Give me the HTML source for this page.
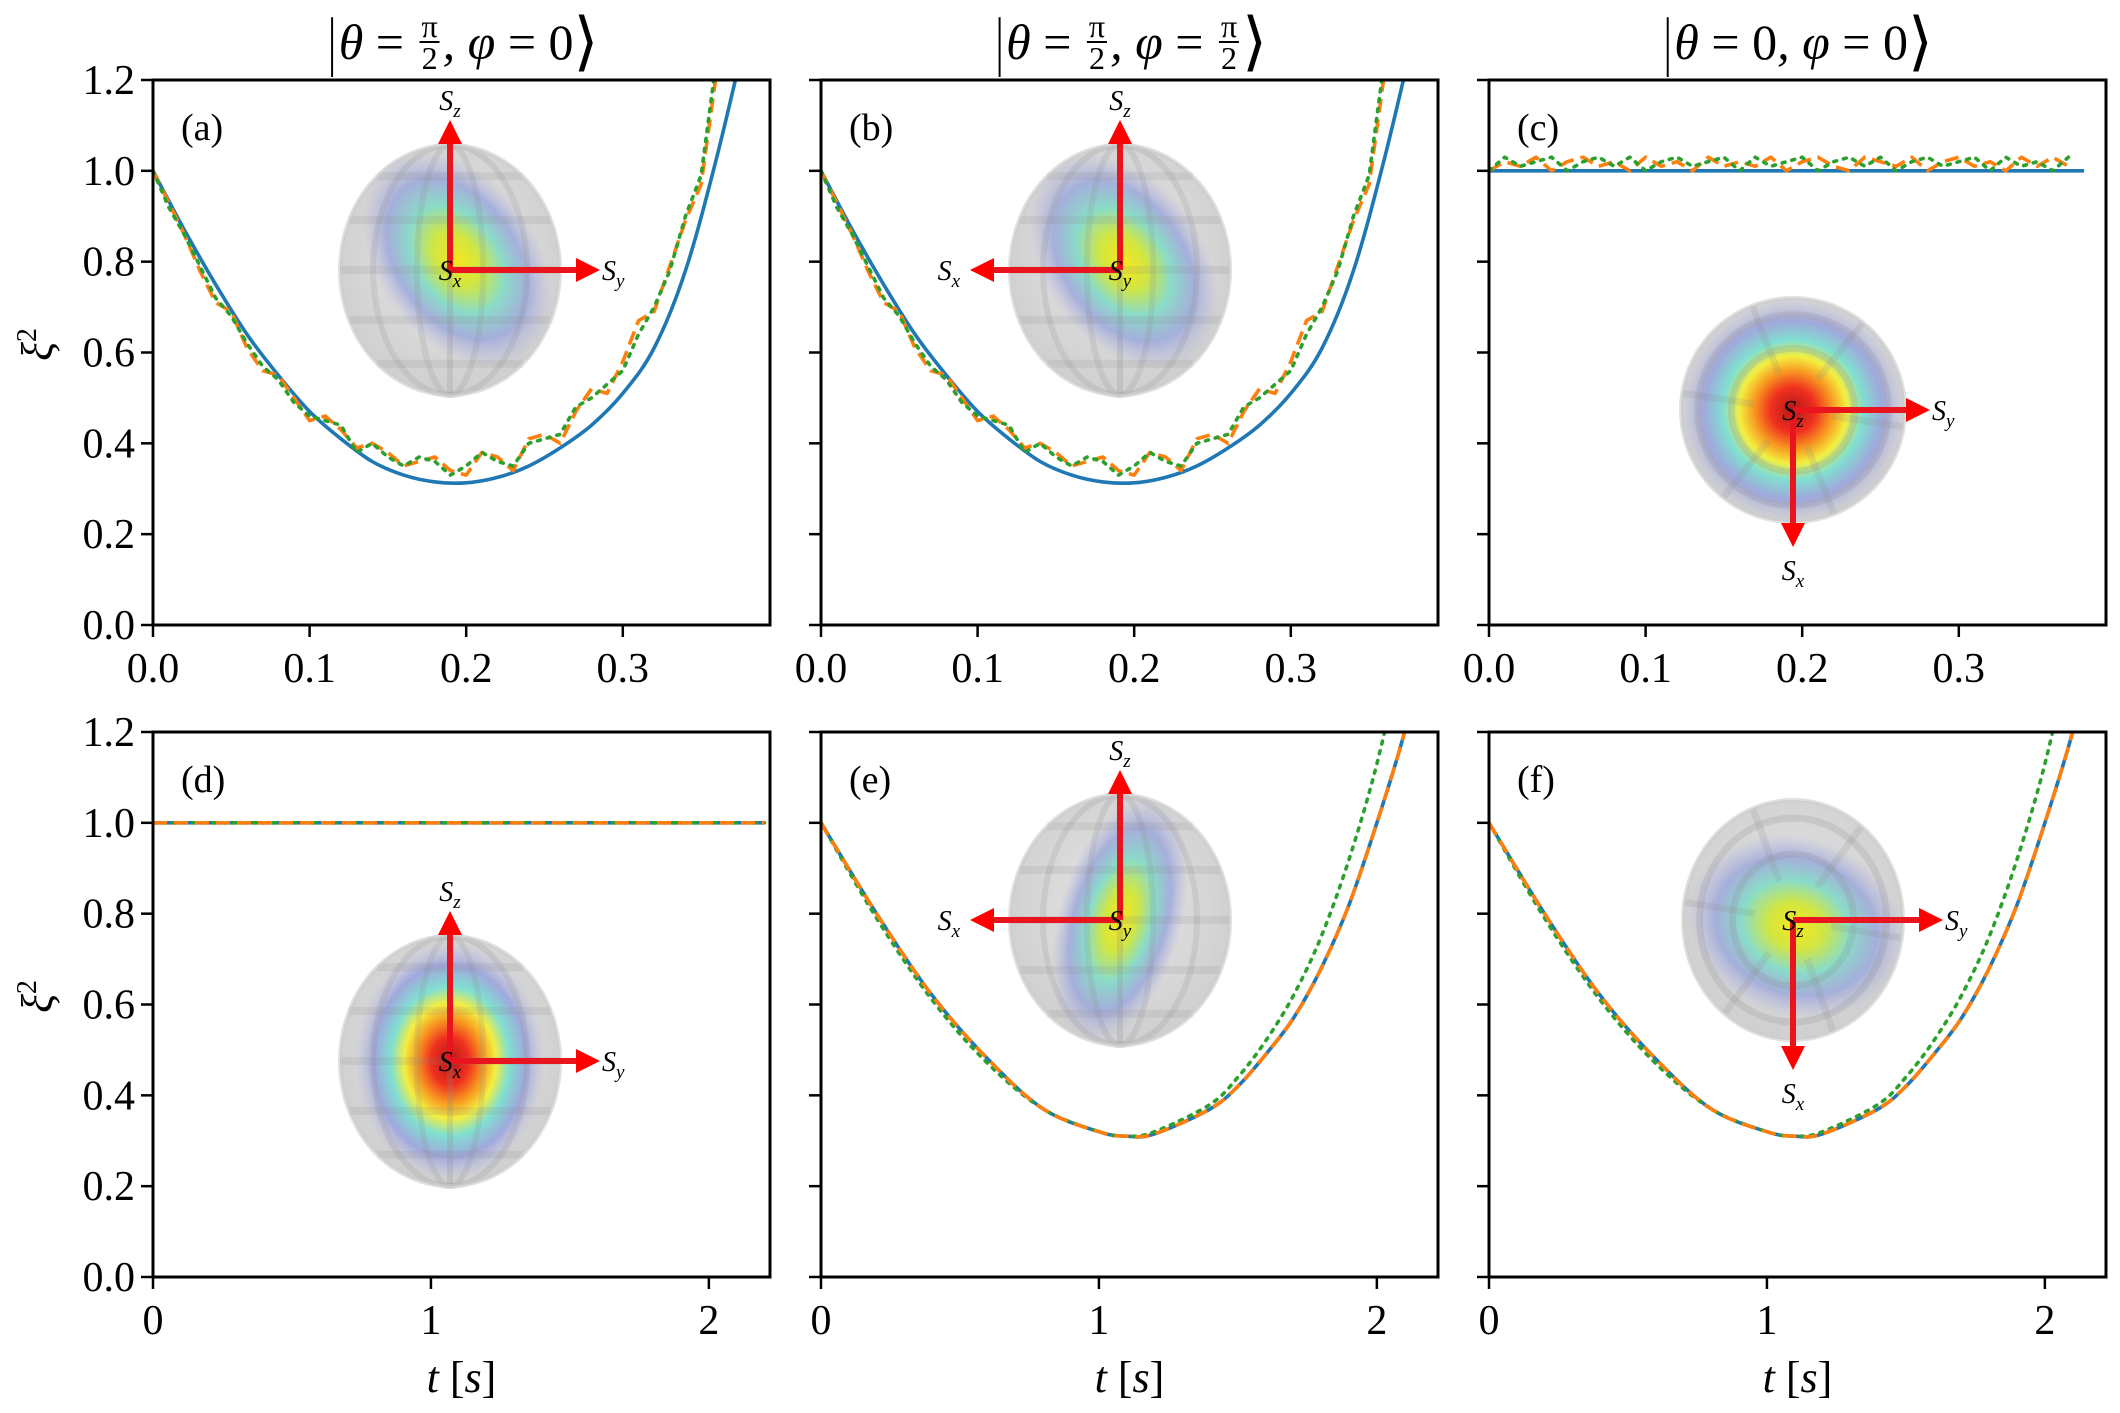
<!DOCTYPE html>
<html><head><meta charset="utf-8">
<style>
html,body{margin:0;padding:0;background:#fff;}
#wrap{position:relative;width:2120px;height:1413px;overflow:hidden;font-family:"Liberation Serif",serif;}
svg{position:absolute;left:0;top:0;}
.title{position:absolute;top:4px;font-size:50px;font-style:italic;display:flex;align-items:center;white-space:nowrap;transform:translateX(-50%);}
.frac{display:inline-flex;flex-direction:column;align-items:center;font-size:32px;font-style:normal;line-height:30px;margin:0 3px;}
.frac .num{border-bottom:2px solid #000;padding:0 2px;}
.up{font-style:normal;}
.bar{font-style:normal;font-size:66px;transform:scaleX(0.6);display:inline-block;}
</style></head>
<body>
<div id="wrap">
<svg id="fig" width="2120" height="1413" xmlns="http://www.w3.org/2000/svg">
<defs>
<radialGradient id="gGrey" cx="50%" cy="45%" r="55%"><stop offset="0" stop-color="#e6e6e6"/><stop offset="0.8" stop-color="#d4d4d4"/><stop offset="1" stop-color="#c4c4c4" stop-opacity="0.8"/></radialGradient>
<radialGradient id="gBlob"><stop offset="0" stop-color="#f6e620"/><stop offset="0.25" stop-color="#d2e640"/><stop offset="0.5" stop-color="#8adcc8"/><stop offset="0.75" stop-color="#9ca8da" stop-opacity="0.85"/><stop offset="1" stop-color="#b4b4e0" stop-opacity="0"/></radialGradient>
<radialGradient id="gHot"><stop offset="0" stop-color="#b01818"/><stop offset="0.2" stop-color="#f03020"/><stop offset="0.35" stop-color="#f79a20"/><stop offset="0.48" stop-color="#f4ee40"/><stop offset="0.62" stop-color="#80e0d0"/><stop offset="0.8" stop-color="#a0a8dc"/><stop offset="1" stop-color="#c0c0e0" stop-opacity="0"/></radialGradient>
<marker id="ah" viewBox="0 0 10 10" refX="5" refY="5" markerWidth="4" markerHeight="4" orient="auto"><path d="M0,0 L10,5 L0,10 z" fill="#f00"/></marker>
</defs>
</svg>
<div class="title" style="left:462px"><span class="bar">|</span>θ <span class="up">&nbsp;=&nbsp;</span><span class="frac"><span class="num">π</span><span>2</span></span>, φ <span class="up">&nbsp;=&nbsp;0</span><span class="up" style="font-size:64px">⟩</span></div>
<div class="title" style="left:1130px"><span class="bar">|</span>θ <span class="up">&nbsp;=&nbsp;</span><span class="frac"><span class="num">π</span><span>2</span></span>, φ <span class="up">&nbsp;=&nbsp;</span><span class="frac"><span class="num">π</span><span>2</span></span><span class="up" style="font-size:64px">⟩</span></div>
<div class="title" style="left:1797px"><span class="bar">|</span>θ <span class="up">&nbsp;=&nbsp;0</span>, φ <span class="up">&nbsp;=&nbsp;0</span><span class="up" style="font-size:64px">⟩</span></div>
</div>
<script>
// ---- data ----
const tShort = [0,0.02,0.04,0.06,0.08,0.10,0.12,0.14,0.16,0.18,0.20,0.22,0.24,0.26,0.28,0.30,0.32,0.34,0.36,0.38];
const blueShort = [1.0,0.87,0.75,0.64,0.55,0.47,0.41,0.36,0.33,0.315,0.313,0.325,0.35,0.39,0.44,0.51,0.61,0.78,1.03,1.32];
const tNoisy = [0,0.01,0.02,0.03,0.04,0.05,0.06,0.07,0.08,0.09,0.10,0.11,0.12,0.13,0.14,0.15,0.16,0.17,0.18,0.19,0.20,0.21,0.22,0.23,0.24,0.25,0.26,0.27,0.28,0.29,0.30,0.31,0.32,0.33,0.34,0.35,0.36,0.37];
const orangeA = [1.0,0.93,0.86,0.78,0.71,0.69,0.61,0.56,0.55,0.50,0.45,0.46,0.43,0.39,0.40,0.38,0.35,0.36,0.37,0.34,0.33,0.38,0.37,0.34,0.41,0.42,0.40,0.47,0.52,0.51,0.58,0.67,0.69,0.79,0.89,0.97,1.22,1.4];
const greenA  = [1.0,0.92,0.86,0.79,0.72,0.68,0.62,0.57,0.54,0.49,0.46,0.45,0.44,0.38,0.40,0.37,0.35,0.37,0.36,0.33,0.35,0.38,0.36,0.35,0.40,0.41,0.42,0.48,0.50,0.53,0.56,0.64,0.70,0.78,0.90,0.99,1.25,1.4];
const orangeC = [1.0,1.02,1.01,1.03,1.0,1.02,1.03,1.01,1.02,1.0,1.03,1.01,1.02,1.0,1.03,1.01,1.02,1.01,1.03,1.0,1.02,1.03,1.01,1.0,1.03,1.02,1.01,1.03,1.0,1.02,1.03,1.01,1.02,1.0,1.03,1.01,1.03,1.01];
const greenC  = [1.0,1.03,1.01,1.02,1.03,1.0,1.02,1.03,1.01,1.03,1.0,1.02,1.03,1.01,1.02,1.03,1.0,1.03,1.01,1.02,1.03,1.0,1.02,1.03,1.01,1.03,1.0,1.02,1.03,1.01,1.02,1.03,1.0,1.03,1.01,1.02,1.0,1.03];
const tLong = [0,0.2,0.4,0.6,0.8,1.0,1.1,1.2,1.4,1.5,1.6,1.7,1.8,1.9,2.0,2.1,2.2];
const blueLong  = [1.0,0.80,0.62,0.48,0.37,0.32,0.31,0.315,0.37,0.42,0.49,0.57,0.68,0.82,1.0,1.2,1.45];
const greenLong = [1.0,0.79,0.61,0.47,0.37,0.32,0.31,0.32,0.38,0.44,0.52,0.62,0.75,0.92,1.13,1.4,1.7];
const flatLong = [1,1,1,1,1,1,1,1,1,1,1,1,1,1,1,1,1];
const flatShort = tShort.map(()=>1.0);
const yTicks = [0,0.2,0.4,0.6,0.8,1.0,1.2];
const yTickLabels = ["0.0","0.2","0.4","0.6","0.8","1.0","1.2"];
const xTicksShort = [0,0.1,0.2,0.3];
const xTickLabelsShort = ["0.0","0.1","0.2","0.3"];
const xTicksLong = [0,1,2];
const xTickLabelsLong = ["0","1","2"];
const panelLabels = ["(a)","(b)","(c)","(d)","(e)","(f)"];

// ---- layout ----
const NS="http://www.w3.org/2000/svg";
const svg=document.getElementById('fig');
const L=[153,821,1489], W=617, T=[80,732], H=545;
function mk(tag,attrs,parent){const e=document.createElementNS(NS,tag);for(const k in attrs)e.setAttribute(k,attrs[k]);(parent||svg).appendChild(e);return e;}
function smoothPath(pts){
  let d='M'+pts[0][0].toFixed(1)+','+pts[0][1].toFixed(1);
  for(let i=0;i<pts.length-1;i++){
    const p0=pts[Math.max(0,i-1)],p1=pts[i],p2=pts[i+1],p3=pts[Math.min(pts.length-1,i+2)];
    const c1=[p1[0]+(p2[0]-p0[0])/6,p1[1]+(p2[1]-p0[1])/6];
    const c2=[p2[0]-(p3[0]-p1[0])/6,p2[1]-(p3[1]-p1[1])/6];
    d+=' C'+c1[0].toFixed(1)+','+c1[1].toFixed(1)+' '+c2[0].toFixed(1)+','+c2[1].toFixed(1)+' '+p2[0].toFixed(1)+','+p2[1].toFixed(1);
  }
  return d;
}

const panels=[
 {r:0,c:0,xmax:0.394,xt:xTicksShort,xl:xTickLabelsShort,series:[[tShort,blueShort,'b',1],[tNoisy,orangeA,'o',0],[tNoisy,greenA,'g',0]]},
 {r:0,c:1,xmax:0.394,xt:xTicksShort,xl:xTickLabelsShort,series:[[tShort,blueShort,'b',1],[tNoisy,orangeA,'o',0],[tNoisy,greenA,'g',0]]},
 {r:0,c:2,xmax:0.394,xt:xTicksShort,xl:xTickLabelsShort,series:[[tShort,flatShort,'b',0],[tNoisy,orangeC,'o',0],[tNoisy,greenC,'g',0]]},
 {r:1,c:0,xmax:2.22,xt:xTicksLong,xl:xTickLabelsLong,series:[[tLong,flatLong,'b',0],[tLong,flatLong,'g',0],[tLong,flatLong,'o',0]]},
 {r:1,c:1,xmax:2.22,xt:xTicksLong,xl:xTickLabelsLong,series:[[tLong,blueLong,'b',1],[tLong,greenLong,'g',1],[tLong,blueLong,'o',1]]},
 {r:1,c:2,xmax:2.22,xt:xTicksLong,xl:xTickLabelsLong,series:[[tLong,blueLong,'b',1],[tLong,greenLong,'g',1],[tLong,blueLong,'o',1]]},
];
const styles={b:{stroke:'#1f77b4',dash:'',name:'blue-solid-line'},o:{stroke:'#ff7f0e',dash:'14 7',name:'orange-dashed-line'},g:{stroke:'#2ca02c',dash:'3 7',name:'green-dotted-line'}};

const spheres=[
 {cx:450,cy:270,rx:110,ry:125,hot:false,ang:-35,bx:80,by:118,ox:12,oy:-5,arrows:[['up','S','z'],['right','S','y']],center:['S','x']},
 {cx:1120,cy:270,rx:110,ry:125,hot:false,ang:-35,bx:80,by:118,ox:8,oy:-5,arrows:[['up','S','z'],['left','S','x']],center:['S','y']},
 {cx:1793,cy:410,rx:112,ry:112,hot:true,ang:0,bx:112,by:112,ox:0,oy:0,arrows:[['right','S','y'],['down','S','x']],center:['S','z']},
 {cx:450,cy:1061,rx:110,ry:125,hot:true,ang:0,bx:95,by:120,ox:0,oy:0,arrows:[['up','S','z'],['right','S','y']],center:['S','x']},
 {cx:1120,cy:920,rx:110,ry:125,hot:false,ang:15,bx:62,by:125,ox:0,oy:0,arrows:[['up','S','z'],['left','S','x']],center:['S','y']},
 {cx:1793,cy:920,rx:110,ry:120,hot:false,ang:20,bx:110,by:90,ox:5,oy:5,arrows:[['right','S','y'],['down','S','x']],center:['S','z']},
];

panels.forEach((p,i)=>{
  const x0=L[p.c], y0=T[p.r];
  const g=mk('g',{});
  
  
  const sx=v=>x0+v/p.xmax*W, sy=v=>y0+H-v/1.2*H;
  const cid='clip'+i;
  const cp=mk('clipPath',{id:cid},g); mk('rect',{x:x0,y:y0,width:W,height:H},cp);
  const s=spheres[i];
  const sg=mk('g',{},g);
  
  
  const scid='sc'+i;
  const scp=mk('clipPath',{id:scid},sg); mk('ellipse',{cx:s.cx,cy:s.cy,rx:s.rx,ry:s.ry},scp);
  mk('ellipse',{cx:s.cx,cy:s.cy,rx:s.rx,ry:s.ry,fill:'url(#gGrey)'},sg);
  mk('ellipse',{cx:s.cx+s.ox,cy:s.cy+s.oy,rx:s.bx,ry:s.by,fill:s.hot?'url(#gHot)':'url(#gBlob)',transform:`rotate(${s.ang} ${s.cx} ${s.cy})`,'clip-path':`url(#${scid})`},sg);
  if(s.rx===s.ry || i===5){
    [0.55,0.85].forEach(f=>mk('ellipse',{cx:s.cx,cy:s.cy,rx:s.rx*f,ry:s.ry*f,fill:'none',stroke:'#888','stroke-opacity':0.2,'stroke-width':7},sg));
    for(let a=0;a<6;a++){const th=a*Math.PI/3+0.15;mk('line',{x1:s.cx+Math.cos(th)*s.rx*0.35,y1:s.cy+Math.sin(th)*s.ry*0.35,x2:s.cx+Math.cos(th)*s.rx,y2:s.cy+Math.sin(th)*s.ry,stroke:'#888','stroke-opacity':0.18,'stroke-width':7},sg);}
  } else {
    [-0.75,-0.4,0,0.4,0.75].forEach(f=>{const hw=s.rx*Math.sqrt(1-f*f);mk('line',{x1:s.cx-hw,y1:s.cy+f*s.ry,x2:s.cx+hw,y2:s.cy+f*s.ry,stroke:'#888','stroke-opacity':0.15,'stroke-width':8},sg);});
    [0.3,0.7].forEach(f=>mk('ellipse',{cx:s.cx,cy:s.cy,rx:s.rx*f,ry:s.ry,fill:'none',stroke:'#888','stroke-opacity':0.18,'stroke-width':6},sg));
    mk('line',{x1:s.cx,y1:s.cy-s.ry,x2:s.cx,y2:s.cy+s.ry,stroke:'#888','stroke-opacity':0.22,'stroke-width':6},sg);
  }
  mk('ellipse',{cx:s.cx,cy:s.cy,rx:s.rx,ry:s.ry,fill:'none',stroke:'#ccc','stroke-width':4,'stroke-opacity':0.6},sg);
  const len=(s.rx===s.ry)?125:138;
  s.arrows.forEach(a=>{
    let x2=s.cx,y2=s.cy,lx=s.cx,ly=s.cy,anchor='middle';
    if(a[0]==='up'){y2=s.cy-len;ly=y2-22;}
    if(a[0]==='down'){y2=s.cy+len;ly=y2+45;}
    if(a[0]==='left'){x2=s.cx-len;lx=x2-22;ly=s.cy+10;anchor='end';}
    if(a[0]==='right'){x2=s.cx+len;lx=x2+14;ly=s.cy+10;anchor='start';}
    const ln=mk('line',{x1:s.cx,y1:s.cy,x2:x2,y2:y2,stroke:'#e8141e','stroke-width':6,'marker-end':'url(#ah)'},sg);
    
    
    const tx=mk('text',{x:lx,y:ly,'font-size':28,'font-style':'italic','text-anchor':anchor,'font-family':'Liberation Serif, serif'},sg);
    
    
    tx.innerHTML=a[1]+'<tspan font-size="19" dy="7">'+a[2]+'</tspan>';
  });
  const ct=mk('text',{x:s.cx,y:s.cy+10,'font-size':28,'font-style':'italic','text-anchor':'middle','font-family':'Liberation Serif, serif'},sg);
  
  
  ct.innerHTML=s.center[0]+'<tspan font-size="19" dy="7">'+s.center[1]+'</tspan>';
  p.series.forEach(sr=>{
    const st=styles[sr[2]];
    const pts=sr[0].map((t,k)=>[sx(t),sy(sr[1][k])]);
    const d=sr[3]?smoothPath(pts):pts.map((q,k)=>(k?'L':'M')+q[0].toFixed(1)+','+q[1].toFixed(1)).join(' ');
    const path=mk('path',{d:d,fill:'none',stroke:st.stroke,'stroke-width':3.6,'stroke-dasharray':st.dash,'stroke-linecap':sr[2]==='g'?'round':'butt','stroke-linejoin':'round','clip-path':`url(#${cid})`},g);
    
    
  });
  const fr=mk('rect',{x:x0,y:y0,width:W,height:H,fill:'none',stroke:'#000','stroke-width':3},g);
  
  
  yTicks.forEach((v,k)=>{
    mk('line',{x1:x0-12,y1:sy(v),x2:x0,y2:sy(v),stroke:'#000','stroke-width':2.5},g);
    if(p.c===0){const t=mk('text',{x:x0-18,y:sy(v)+14,'font-size':42,'text-anchor':'end'},g);
      
      
      t.textContent=yTickLabels[k];}
  });
  p.xt.forEach((v,k)=>{
    mk('line',{x1:sx(v),y1:y0+H,x2:sx(v),y2:y0+H+12,stroke:'#000','stroke-width':2.5},g);
    const t=mk('text',{x:sx(v),y:y0+H+57,'font-size':42,'text-anchor':'middle'},g);
    
    
    t.textContent=p.xl[k];
  });
  const pl=mk('text',{x:x0+28,y:y0+60,'font-size':38},g);
  
  
  pl.textContent=panelLabels[i];
  if(p.c===0){
    const yl=mk('text',{x:0,y:0,'font-size':44,'font-style':'italic','text-anchor':'middle',transform:`translate(52 ${y0+H/2-8}) rotate(-90)`},g);
    
    
    yl.innerHTML='ξ<tspan font-size="28" dy="-16" font-style="normal">2</tspan>';
  }
  if(p.r===1){
    const xl=mk('text',{x:x0+W/2,y:1392,'font-size':44,'text-anchor':'middle'},g);
    
    
    xl.innerHTML='<tspan font-style="italic">t</tspan> [<tspan font-style="italic">s</tspan>]';
  }
});
</script>
</body></html>
